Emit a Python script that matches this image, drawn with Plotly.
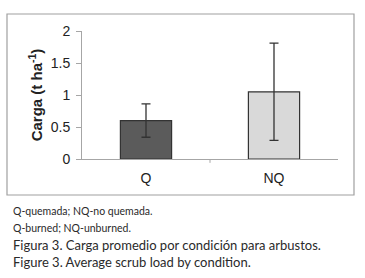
import plotly.graph_objects as go

categories = ["Q", "NQ"]
load_mean = [0.60, 1.05]
load_err = [0.26, 0.76]
bar_colors = ["#5b5b5b", "#d9d9d9"]
y_ticks = [0, 0.5, 1, 1.5, 2]
y_tick_labels = ["0", "0.5", "1", "1.5", "2"]
caption_lines = [
    "Q-quemada; NQ-no quemada.",
    "Q-burned; NQ-unburned.",
    "Figura 3. Carga promedio por condición para arbustos.",
    "Figure 3. Average scrub load by condition.",
]

fig = go.Figure(
    go.Bar(
        x=categories,
        y=load_mean,
        width=0.4,
        marker=dict(color=bar_colors, line=dict(color="#333333", width=1.2)),
        error_y=dict(type="data", array=load_err, visible=True,
                     color="#333333", thickness=1.3, width=4.5),
    )
)

W, H = 365, 278
ml, mr, mt, mb = 82, 27, 31, 119

fig.update_layout(
    width=W, height=H,
    margin=dict(l=ml, r=mr, t=mt, b=mb),
    paper_bgcolor="white", plot_bgcolor="white",
    showlegend=False,
    font=dict(family="Liberation Sans, Arial, sans-serif", color="#222222"),
    xaxis=dict(
        showline=True, linecolor="#a6a6a6", linewidth=1,
        ticks="", tickfont=dict(size=14, color="#222222"),
        ticklabelstandoff=6,
        showgrid=False, zeroline=False,
    ),
    yaxis=dict(
        range=[0, 2], tickvals=y_ticks, ticktext=y_tick_labels,
        showline=True, linecolor="#a6a6a6", linewidth=1,
        ticks="outside", ticklen=5, tickcolor="#a6a6a6",
        tickfont=dict(size=14, color="#222222"),
        ticklabelstandoff=3,
        showgrid=False, zeroline=False,
        title=dict(text="<b>Carga (t ha<sup>-1</sup>)</b>",
                   font=dict(size=15, color="#222222"), standoff=4),
    ),
)

pw = W - ml - mr
ph = H - mt - mb

def px_x(x):
    return (x - ml) / pw

def px_y(y):
    return (H - mb - y) / ph

# frame around chart
fig.add_shape(type="rect", xref="paper", yref="paper",
              x0=px_x(7), x1=px_x(354), y0=px_y(195), y1=px_y(14),
              line=dict(color="#a0a0a0", width=1.2), fillcolor="rgba(0,0,0,0)",
              layer="below")
# middle tick on x-axis between categories
fig.add_shape(type="line", xref="x", yref="paper",
              x0=0.5, x1=0.5, y0=0, y1=-0.03,
              line=dict(color="#a6a6a6", width=1))

cap_y = [211, 228, 245, 262]
cap_size = [10.5, 10.5, 13, 13]
for txt, yy, sz in zip(caption_lines, cap_y, cap_size):
    fig.add_annotation(text=txt, xref="paper", yref="paper",
                       x=px_x(11), y=px_y(yy), xanchor="left", yanchor="middle",
                       showarrow=False,
                       font=dict(family="Lato, Noto Sans, sans-serif", size=sz, color="#2a2a2a"))

fig.write_html("out.html", config={"displayModeBar": False},
               post_script="document.body.style.margin='0';document.body.style.overflow='hidden';")
